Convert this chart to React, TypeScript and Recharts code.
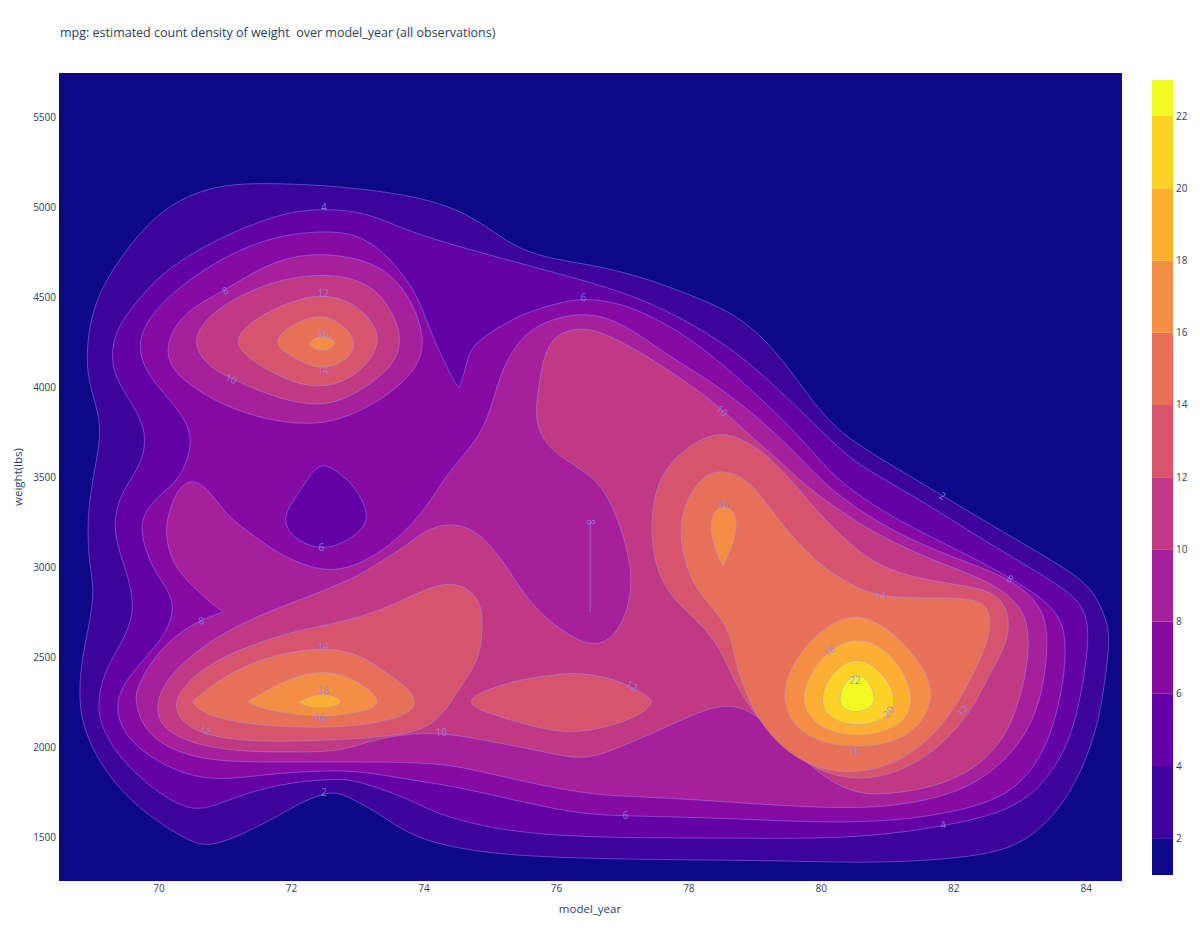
import React from "react";
import {
  CartesianGrid,
  ComposedChart,
  Curve,
  ReferenceArea,
  Scatter,
  ScatterChart,
  XAxis,
  YAxis
} from "recharts";

type Point = [number, number];
type Row = { x: number; y: number };

const TITLE = "mpg: estimated count density of weight  over model_year (all observations)";

const yearTicks = [70, 72, 74, 76, 78, 80, 82, 84];
const weightTicks = [1500, 2000, 2500, 3000, 3500, 4000, 4500, 5000, 5500];
const yearRange: [number, number] = [68.49, 84.54];
const weightRange: [number, number] = [1255, 5750];

// colorbar: band edges and tick values
const colorbarEdges = [0.98, 2, 4, 6, 8, 10, 12, 14, 16, 18, 20, 22, 23];
const colorbarTicks = [2, 4, 6, 8, 10, 12, 14, 16, 18, 20, 22];

// plasma, one colour per band (below 2, 2-4, ... 20-22, above 22)
const bandColors = [
  "#0d0887", "#3c049b", "#6202a5", "#850ba4", "#a5209a", "#c03a83",
  "#d6546e", "#e77059", "#f58e45", "#fcaf33", "#fbd225", "#f0f921"
];

// contour outlines, [model_year, weight]
const level2: Point[] = [
  [71.30, 5138], [71.98, 5133], [72.66, 5122], [73.96, 5066], [74.74, 4955], [75.26, 4805],
  [75.79, 4721], [76.66, 4677], [77.43, 4599], [78.22, 4488], [78.73, 4398], [79.09, 4287],
  [79.41, 4154], [79.67, 4026], [79.92, 3898], [80.29, 3748], [80.82, 3620], [81.49, 3475],
  [82.64, 3219], [83.68, 2997], [84.09, 2885], [84.30, 2719], [84.36, 2607], [84.30, 2424],
  [84.20, 2146], [83.94, 1867], [83.58, 1645], [83.16, 1495], [82.64, 1406], [81.60, 1367],
  [80.56, 1356], [79.52, 1367], [78.17, 1372], [76.66, 1378], [75.45, 1395], [74.74, 1422],
  [74.09, 1472], [73.70, 1534], [73.41, 1606], [73.17, 1662], [72.89, 1717], [72.67, 1750],
  [72.46, 1739], [72.13, 1689], [71.77, 1611], [71.16, 1495], [70.76, 1450], [70.50, 1467],
  [70.00, 1578], [69.50, 1723], [69.10, 1912], [68.87, 2095], [68.79, 2251], [68.82, 2468],
  [68.94, 2668], [69.03, 2874], [68.94, 3024], [68.91, 3303], [69.05, 3581], [69.13, 3764],
  [69.05, 3903], [68.93, 4042], [68.90, 4209], [69.00, 4454], [69.32, 4677], [69.79, 4899],
  [70.21, 5027], [70.73, 5111]
];

const level4: Point[] = [
  [72.49, 4999], [73.17, 4972], [73.70, 4877], [74.49, 4788], [75.26, 4710], [76.39, 4599],
  [77.18, 4510], [77.95, 4376], [78.58, 4232], [79.09, 4081], [79.61, 3898], [80.03, 3748],
  [80.39, 3620], [80.74, 3531], [81.60, 3353], [82.39, 3164], [83.16, 2997], [83.79, 2852],
  [83.99, 2757], [84.05, 2607], [83.94, 2329], [83.78, 2051], [83.41, 1812], [82.88, 1645],
  [81.86, 1561], [81.07, 1517], [80.03, 1489], [78.47, 1495], [76.39, 1495], [75.26, 1534],
  [74.70, 1578], [74.21, 1628], [73.79, 1706], [73.44, 1756], [73.04, 1806], [72.72, 1828],
  [71.92, 1801], [71.32, 1745], [70.80, 1667], [70.50, 1650], [70.15, 1706], [69.74, 1817],
  [69.35, 1968], [69.13, 2112], [69.06, 2251], [69.20, 2446], [69.47, 2596], [69.62, 2746],
  [69.58, 2874], [69.50, 2986], [69.29, 3208], [69.40, 3392], [69.59, 3497], [69.79, 3625],
  [69.79, 3792], [69.53, 3942], [69.31, 4081], [69.28, 4209], [69.38, 4343], [69.68, 4488],
  [70.05, 4638], [70.58, 4766], [71.19, 4877], [71.87, 4972]
];

const level6: Point[] = [
  [72.45, 4871], [72.92, 4860], [73.28, 4788], [73.58, 4677], [73.85, 4543], [74.00, 4415],
  [74.15, 4265], [74.32, 4137], [74.44, 4042], [74.53, 3998], [74.53, 3998], [74.61, 4081],
  [74.68, 4193], [74.79, 4248], [75.05, 4321], [75.51, 4415], [76.03, 4471], [76.41, 4499],
  [76.96, 4471], [77.46, 4393], [77.98, 4282], [78.47, 4143], [78.99, 3970], [79.52, 3787],
  [79.92, 3620], [80.29, 3470], [81.00, 3292], [81.75, 3152], [82.51, 3013], [83.16, 2874],
  [83.58, 2752], [83.71, 2596], [83.65, 2318], [83.41, 1995], [83.05, 1812], [82.63, 1700],
  [81.86, 1628], [81.07, 1589], [80.03, 1578], [78.47, 1606], [77.01, 1617], [76.39, 1628],
  [75.76, 1673], [75.15, 1723], [74.55, 1773], [74.21, 1795], [73.64, 1828], [73.19, 1856],
  [72.72, 1873], [71.77, 1856], [71.01, 1817], [70.50, 1834], [70.00, 1912], [69.59, 2023],
  [69.40, 2134], [69.35, 2251], [69.50, 2374], [69.81, 2502], [70.11, 2635], [70.23, 2763],
  [70.15, 2874], [69.90, 2986], [69.70, 3208], [69.79, 3308], [69.97, 3392], [70.26, 3470],
  [70.44, 3597], [70.50, 3731], [70.36, 3842], [70.11, 3953], [69.85, 4065], [69.71, 4176],
  [69.71, 4287], [69.90, 4415], [70.32, 4565], [70.83, 4693], [71.35, 4788], [71.87, 4849]
];

// low pocket (<6) under the upper-left peak
const level6Hole: Point[] = [
  [72.45, 3581], [72.67, 3542], [72.92, 3464], [73.07, 3375], [73.17, 3275], [73.02, 3186],
  [72.64, 3108], [72.34, 3108], [72.02, 3164], [71.87, 3258], [71.98, 3347], [72.13, 3425],
  [72.28, 3514]
];

const level8Main: Point[] = [
  [70.50, 3497], [70.76, 3431], [71.01, 3292], [71.35, 3197], [71.68, 3108], [72.02, 3036],
  [72.55, 2969], [73.07, 3019], [73.58, 3147], [74.00, 3314], [74.26, 3464], [74.44, 3558],
  [74.80, 3709], [75.00, 3859], [75.15, 4081], [75.45, 4282], [75.86, 4376], [76.36, 4415],
  [76.77, 4393], [77.22, 4304], [77.72, 4170], [78.47, 4004], [79.14, 3803], [79.61, 3636],
  [80.03, 3470], [80.59, 3308], [81.34, 3152], [82.10, 3041], [82.87, 2935], [83.23, 2819],
  [83.41, 2702], [83.41, 2485], [83.31, 2262], [83.10, 2073], [82.73, 1906], [82.22, 1773],
  [81.58, 1700], [80.82, 1662], [80.03, 1662], [78.99, 1684], [77.95, 1712], [76.90, 1728],
  [76.39, 1745], [75.76, 1789], [75.15, 1839], [74.55, 1890], [74.21, 1906], [73.64, 1917],
  [72.72, 1917], [72.01, 1917], [71.25, 1917], [70.76, 1929], [70.30, 1968], [69.95, 2040],
  [69.73, 2134], [69.65, 2246], [69.65, 2318], [69.81, 2429], [70.05, 2557], [70.41, 2663],
  [70.71, 2719], [70.98, 2752], [70.98, 2752], [70.77, 2802], [70.61, 2863], [70.41, 2930],
  [70.20, 3030], [70.11, 3152], [70.11, 3264], [70.26, 3431]
];

const level8TopLeft: Point[] = [
  [70.11, 4248], [70.32, 4387], [70.62, 4471], [71.00, 4543], [71.53, 4666], [71.98, 4727],
  [72.46, 4749], [73.17, 4710], [73.60, 4599], [73.85, 4454], [74.00, 4287], [73.96, 4154],
  [73.69, 4026], [73.28, 3915], [72.75, 3820], [72.24, 3792], [71.62, 3820], [70.98, 3898],
  [70.47, 4009], [70.15, 4120]
];

const level10Main: Point[] = [
  [69.96, 2251], [70.11, 2374], [70.41, 2485], [70.80, 2596], [71.32, 2702], [71.92, 2791],
  [72.52, 2874], [73.04, 2958], [73.38, 3041], [73.69, 3108], [74.02, 3208], [74.37, 3247],
  [74.73, 3219], [75.05, 3108], [75.30, 2974], [75.51, 2852], [75.76, 2746], [76.03, 2663],
  [76.36, 2585], [76.63, 2568], [76.84, 2607], [77.07, 2735], [77.15, 2930], [77.07, 3113],
  [76.86, 3336], [76.62, 3486], [76.21, 3581], [75.86, 3670], [75.68, 3803], [75.71, 3948],
  [75.79, 4154], [75.95, 4282], [76.21, 4321], [76.47, 4332], [76.86, 4282], [77.46, 4154],
  [77.98, 4026], [78.47, 3892], [78.99, 3709], [79.41, 3581], [79.71, 3470], [80.29, 3308],
  [81.04, 3141], [81.80, 3024], [82.48, 2930], [82.90, 2830], [83.13, 2702], [83.13, 2485],
  [83.00, 2262], [82.78, 2057], [82.40, 1901], [81.95, 1812], [81.49, 1762], [80.89, 1734],
  [80.51, 1745], [80.13, 1812], [79.77, 1917], [79.46, 2029], [79.15, 2140], [78.84, 2218],
  [78.47, 2240], [77.95, 2162], [77.43, 2073], [76.90, 1990], [76.39, 1923], [75.77, 1979],
  [74.73, 2051], [74.26, 2079], [73.69, 2073], [73.17, 2034], [72.72, 1973], [72.01, 1973],
  [71.32, 1973], [70.71, 2001], [70.26, 2056], [70.00, 2134]
];

const level10TopLeft: Point[] = [
  [70.50, 4248], [70.68, 4376], [71.09, 4488], [71.71, 4593], [72.46, 4638], [73.07, 4599],
  [73.43, 4488], [73.67, 4304], [73.60, 4154], [73.28, 4042], [72.86, 3942], [72.46, 3898],
  [71.87, 3926], [71.09, 4048], [70.73, 4120]
];

const level12TopLeft: Point[] = [
  [71.07, 4248], [71.41, 4376], [71.92, 4471], [72.46, 4526], [72.96, 4471], [73.28, 4343],
  [73.32, 4248], [73.17, 4137], [72.86, 4042], [72.46, 3998], [72.02, 4026], [71.51, 4120]
];

const level12LowerLeft: Point[] = [
  [70.23, 2251], [70.41, 2357], [70.71, 2446], [71.10, 2524], [71.62, 2596], [72.12, 2652],
  [72.72, 2691], [73.38, 2763], [73.90, 2858], [74.29, 2913], [74.59, 2902], [74.85, 2819],
  [74.89, 2691], [74.85, 2502], [74.64, 2385], [74.43, 2262], [74.21, 2151], [73.90, 2084],
  [73.38, 2057], [72.72, 2040], [71.77, 2029], [71.10, 2040], [70.61, 2079], [70.30, 2151]
];

const level12Center: Point[] = [
  [74.58, 2251], [74.99, 2329], [75.51, 2379], [76.03, 2407], [76.39, 2413], [76.90, 2379],
  [77.33, 2296], [77.51, 2246], [77.17, 2157], [76.65, 2101], [76.21, 2079], [75.77, 2101],
  [74.99, 2184]
];

const level12Right: Point[] = [
  [78.52, 3748], [78.85, 3709], [79.23, 3609], [79.61, 3458], [79.98, 3292], [80.44, 3125],
  [80.89, 3002], [81.49, 2935], [82.10, 2902], [82.63, 2863], [82.81, 2763], [82.84, 2652],
  [82.75, 2540], [82.55, 2413], [82.30, 2223], [81.99, 2079], [81.60, 1945], [81.00, 1834],
  [80.39, 1817], [79.83, 1890], [79.38, 2023], [78.97, 2190], [78.67, 2374], [78.47, 2557],
  [78.13, 2707], [77.72, 2835], [77.46, 3024], [77.42, 3303], [77.57, 3525], [77.98, 3670],
  [78.25, 3725]
];

const level14TopLeft: Point[] = [
  [71.66, 4248], [72.03, 4360], [72.46, 4415], [72.81, 4343], [72.99, 4248], [72.86, 4154],
  [72.46, 4093], [72.09, 4154]
];

const level14LowerLeft: Point[] = [
  [70.50, 2251], [70.50, 2251], [70.76, 2335], [71.16, 2429], [71.71, 2513], [72.46, 2557],
  [72.99, 2524], [73.38, 2429], [73.75, 2335], [73.91, 2246], [73.75, 2179], [73.29, 2134],
  [72.69, 2107], [71.77, 2112], [71.10, 2140], [70.65, 2190]
];

const level14Right: Point[] = [
  [78.52, 3542], [78.85, 3497], [79.08, 3403], [79.30, 3292], [79.61, 3152], [79.98, 3013],
  [80.44, 2902], [80.89, 2835], [81.49, 2830], [82.10, 2830], [82.45, 2808], [82.55, 2735],
  [82.55, 2652], [82.45, 2524], [82.20, 2335], [81.90, 2151], [81.49, 1995], [81.00, 1890],
  [80.48, 1856], [79.98, 1873], [79.49, 1968], [79.12, 2112], [78.88, 2279], [78.70, 2468],
  [78.63, 2635], [78.43, 2746], [78.07, 2891], [77.90, 3080], [77.87, 3208], [77.92, 3336],
  [78.10, 3458], [78.29, 3520]
];

const level16TopLeft: Point[] = [
  [72.22, 4248], [72.45, 4298], [72.65, 4268], [72.66, 4237], [72.55, 4204], [72.34, 4212]
];

const level16LowerLeft: Point[] = [
  [71.33, 2251], [71.33, 2251], [71.63, 2318], [72.02, 2390], [72.48, 2429], [72.89, 2390],
  [73.19, 2318], [73.34, 2251], [73.19, 2207], [72.78, 2179], [72.39, 2168], [71.87, 2190],
  [71.48, 2223]
];

const level16Lobe: Point[] = [
  [78.52, 3347], [78.67, 3319], [78.73, 3247], [78.69, 3152], [78.58, 3058], [78.52, 3002],
  [78.52, 3002], [78.43, 3069], [78.34, 3169], [78.32, 3253], [78.40, 3319]
];

const level16Right: Point[] = [
  [80.54, 2746], [80.99, 2668], [81.39, 2524], [81.64, 2374], [81.68, 2262], [81.49, 2112],
  [81.09, 2023], [80.54, 1995], [79.98, 2023], [79.58, 2112], [79.41, 2262], [79.49, 2413],
  [79.79, 2579], [80.14, 2691]
];

const level18LowerLeft: Point[] = [
  [72.10, 2251], [72.10, 2251], [72.28, 2279], [72.48, 2301], [72.69, 2279], [72.78, 2246],
  [72.63, 2223], [72.39, 2218], [72.18, 2229]
];

const level18Right: Point[] = [
  [80.54, 2613], [80.94, 2557], [81.24, 2429], [81.39, 2279], [81.30, 2151], [80.94, 2079],
  [80.48, 2057], [80.03, 2095], [79.76, 2190], [79.71, 2301], [79.88, 2446], [80.18, 2557]
];

const level20Right: Point[] = [
  [80.54, 2496], [80.84, 2446], [81.07, 2335], [81.12, 2246], [81.00, 2168], [80.70, 2123],
  [80.39, 2123], [80.09, 2168], [79.98, 2262], [80.09, 2374], [80.29, 2457]
];

const level22Right: Point[] = [
  [80.54, 2413], [80.71, 2374], [80.82, 2279], [80.77, 2218], [80.54, 2190], [80.33, 2207],
  [80.26, 2262], [80.33, 2357]
];

// the degenerate "8" contour segment in the middle
const level8Segment: Point[] = [
  [76.51, 3252], [76.51, 2752]
];

// contour labels: text, model_year, weight, rotation
const contourLabels: [string, number, number, number][] = [
  ["4", 72.49, 4999, 0], ["8", 71.0, 4538, -30], ["12", 72.48, 4526, 0], ["16", 72.48, 4298, 0],
  ["14", 72.48, 4093, 0], ["10", 71.09, 4048, 25], ["6", 76.41, 4499, 0], ["10", 78.5, 3870, 40],
  ["2", 81.83, 3397, 30], ["16", 78.52, 3347, 0], ["8", 76.51, 3252, 90], ["6", 72.45, 3108, 0],
  ["8", 82.85, 2935, 30], ["8", 70.64, 2702, -15], ["14", 80.89, 2835, 0], ["14", 72.48, 2557, 0],
  ["18", 80.12, 2535, -45], ["12", 77.14, 2340, 30], ["22", 80.51, 2368, 0], ["18", 72.48, 2312, 0],
  ["20", 81.01, 2196, -50], ["12", 82.14, 2201, -50], ["16", 72.42, 2162, 0], ["12", 70.7, 2095, 30],
  ["10", 74.26, 2079, 0], ["16", 80.5, 1979, 0], ["2", 72.49, 1745, 0], ["6", 77.04, 1617, 0],
  ["4", 81.84, 1567, -10]
];

// drawing order, band = index into bandColors
const layers: { name: string; band: number; points: Point[] }[] = [
  { name: "level2", band: 1, points: level2 },
  { name: "level4", band: 2, points: level4 },
  { name: "level6", band: 3, points: level6 },
  { name: "level6Hole", band: 2, points: level6Hole },
  { name: "level8Main", band: 4, points: level8Main },
  { name: "level8TopLeft", band: 4, points: level8TopLeft },
  { name: "level10Main", band: 5, points: level10Main },
  { name: "level10TopLeft", band: 5, points: level10TopLeft },
  { name: "level12TopLeft", band: 6, points: level12TopLeft },
  { name: "level12LowerLeft", band: 6, points: level12LowerLeft },
  { name: "level12Center", band: 6, points: level12Center },
  { name: "level12Right", band: 6, points: level12Right },
  { name: "level14TopLeft", band: 7, points: level14TopLeft },
  { name: "level14LowerLeft", band: 7, points: level14LowerLeft },
  { name: "level14Right", band: 7, points: level14Right },
  { name: "level16TopLeft", band: 8, points: level16TopLeft },
  { name: "level16LowerLeft", band: 8, points: level16LowerLeft },
  { name: "level16Lobe", band: 8, points: level16Lobe },
  { name: "level16Right", band: 8, points: level16Right },
  { name: "level18LowerLeft", band: 9, points: level18LowerLeft },
  { name: "level18Right", band: 9, points: level18Right },
  { name: "level20Right", band: 10, points: level20Right },
  { name: "level22Right", band: 11, points: level22Right }
];

const LINE_COLOR = "rgba(165,150,255,0.55)";
const LABEL_COLOR = "rgba(140,135,240,0.85)";
const TEXT_COLOR = "#2a3f5f";
const FONT = "'Open Sans', 'Noto Sans', sans-serif";

const toRows = (points: Point[]): Row[] => points.map(([x, y]) => ({ x, y }));

const labelRows = contourLabels.map(([text, x, y, angle]) => ({ x, y, text, angle }));

const NoDot = () => <g />;

function contourFill(fill: string) {
  return (props: { points?: { x: number; y: number }[] }) => (
    <Curve
      points={props.points}
      type="basisClosed"
      fill={fill}
      fillOpacity={1}
      stroke={LINE_COLOR}
      strokeWidth={0.8}
    />
  );
}

function ContourLabel(props: any) {
  const { cx, cy, payload } = props;
  if (cx == null || cy == null) return <g />;
  return (
    <text
      x={cx}
      y={cy}
      dy="0.35em"
      textAnchor="middle"
      fontSize={10}
      fontFamily={FONT}
      fill={LABEL_COLOR}
      transform={payload.angle ? `rotate(${payload.angle} ${cx} ${cy})` : undefined}
    >
      {payload.text}
    </text>
  );
}

export default function App() {
  return (
    <div
      style={{
        position: "absolute",
        left: 0,
        top: 0,
        width: 1200,
        height: 941,
        background: "#ffffff",
        fontFamily: FONT,
        color: TEXT_COLOR
      }}
    >
      <div style={{ position: "absolute", left: 60, top: 24, fontSize: 12.5, whiteSpace: "pre" }}>
        {TITLE}
      </div>

      <div style={{ position: "absolute", left: 0, top: 0 }}>
        <ScatterChart width={1200} height={941} margin={{ top: 73, right: 78, bottom: 20, left: 9 }}>
          <CartesianGrid fill={bandColors[0]} stroke="none" horizontal={false} vertical={false} />
          <XAxis
            type="number"
            dataKey="x"
            domain={yearRange}
            ticks={yearTicks}
            allowDataOverflow
            height={40}
            axisLine={false}
            tickLine={false}
            tickSize={0}
            tickMargin={4}
            tick={{ fill: TEXT_COLOR, fontSize: 10, fontFamily: FONT }}
          />
          <YAxis
            type="number"
            dataKey="y"
            domain={weightRange}
            ticks={weightTicks}
            allowDataOverflow
            width={50}
            axisLine={false}
            tickLine={false}
            tickSize={0}
            tickMargin={3}
            tick={{ fill: TEXT_COLOR, fontSize: 10, fontFamily: FONT }}
          />
          {layers.map((layer) => (
            <Scatter
              key={layer.name}
              name={layer.name}
              data={toRows(layer.points)}
              shape={NoDot}
              line={contourFill(bandColors[layer.band])}
              isAnimationActive={false}
            />
          ))}
          <Scatter
            name="level8Segment"
            data={toRows(level8Segment)}
            shape={NoDot}
            line={{ stroke: LINE_COLOR, strokeWidth: 1 }}
            lineJointType="linear"
            isAnimationActive={false}
          />
          <Scatter
            name="labels"
            data={labelRows}
            shape={ContourLabel}
            isAnimationActive={false}
          />
        </ScatterChart>
      </div>

      <div style={{ position: "absolute", left: 1152, top: 80 }}>
        <ComposedChart
          width={61}
          height={795}
          data={[{ x: 0, y: colorbarEdges[0] }, { x: 1, y: colorbarEdges[colorbarEdges.length - 1] }]}
          margin={{ top: 0, right: 0, bottom: 0, left: 0 }}
        >
          <XAxis type="number" dataKey="x" domain={[0, 1]} hide />
          <YAxis
            type="number"
            dataKey="y"
            orientation="right"
            domain={[colorbarEdges[0], colorbarEdges[colorbarEdges.length - 1]]}
            ticks={colorbarTicks}
            allowDataOverflow
            width={40}
            axisLine={false}
            tickLine={false}
            tickSize={0}
            tickMargin={3}
            tick={{ fill: TEXT_COLOR, fontSize: 10, fontFamily: FONT }}
          />
          {bandColors.map((color, i) => (
            <ReferenceArea
              key={color}
              y1={colorbarEdges[i]}
              y2={colorbarEdges[i + 1]}
              fill={color}
              fillOpacity={1}
              stroke="none"
              ifOverflow="visible"
            />
          ))}
          <Scatter dataKey="y" shape={NoDot} isAnimationActive={false} />
        </ComposedChart>
      </div>

      <div
        style={{
          position: "absolute",
          left: 590,
          top: 901,
          transform: "translateX(-50%)",
          fontSize: 11.5,
          whiteSpace: "nowrap"
        }}
      >
        model_year
      </div>
      <div
        style={{
          position: "absolute",
          left: 17,
          top: 477,
          transform: "translate(-50%, -50%) rotate(-90deg)",
          fontSize: 11.5,
          whiteSpace: "nowrap"
        }}
      >
        weight(lbs)
      </div>
    </div>
  );
}
